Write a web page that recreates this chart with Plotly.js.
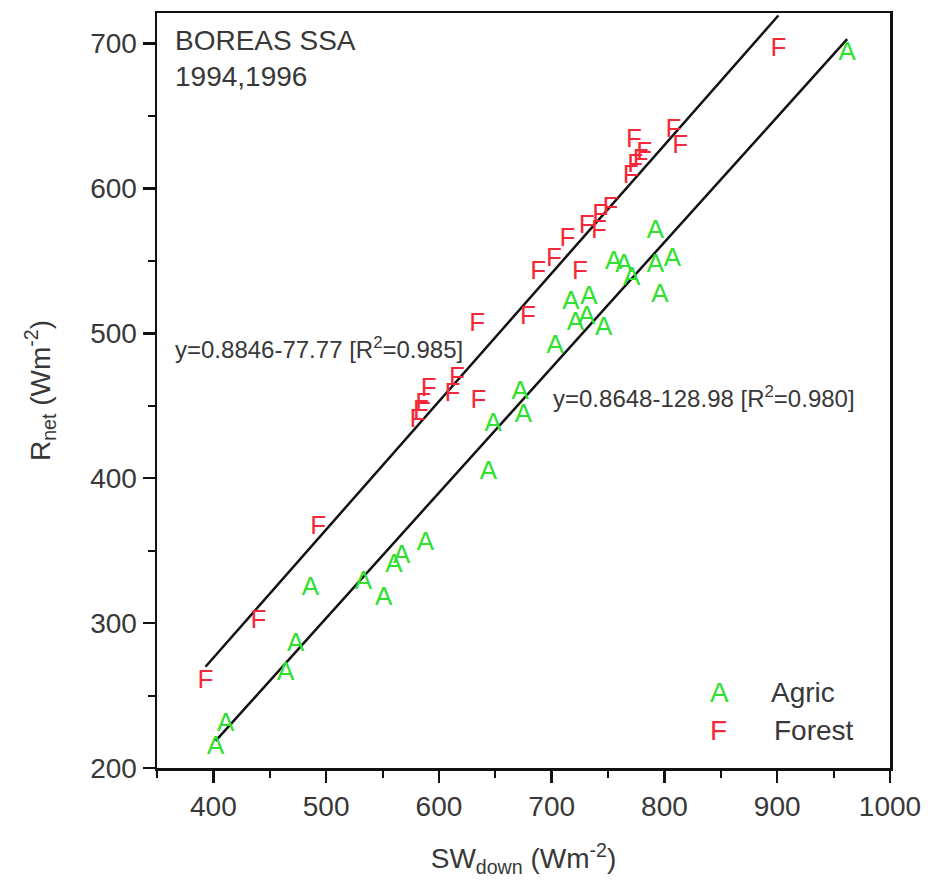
<!DOCTYPE html>
<html>
<head>
<meta charset="utf-8">
<script src="https://cdn.plot.ly/plotly-3.0.1.min.js"></script>
<style>
  html, body { margin: 0; padding: 0; background: #fff; }
  #chart { width: 933px; height: 889px; }
</style>
</head>
<body>
<div id="chart"></div>
<script>
// Incoming shortwave vs. net radiation, BOREAS southern study area
const agricSW   = [402, 411, 464, 473, 486, 533, 551, 560, 567, 588, 644, 648, 672, 675, 703,
                   717, 733, 721, 731, 746, 755, 764, 771, 792, 807, 792, 796, 962];
const agricRnet = [214, 230, 265, 285, 324, 328, 317, 340, 346, 355, 404, 437, 459, 443, 491,
                   521, 525, 507, 511, 503, 549, 547, 538, 570, 551, 547, 526, 693];

const forestSW   = [393, 440, 493, 581, 584, 586, 591, 612, 616, 635, 634, 679, 688, 702, 714,
                    725, 731, 742, 743, 752, 770, 774, 779, 782, 773, 808, 814, 901];
const forestRnet = [260, 301, 366, 440, 446, 451, 461, 458, 469, 453, 506, 511, 542, 551, 565,
                    542, 574, 570, 581, 586, 608, 616, 619, 624, 633, 640, 629, 696];

// Linear fits (slope, intercept, R²)
const forestFit = [0.8846, -77.77, 0.985];
const agricFit  = [0.8648, -128.98, 0.980];

const FONT = 'Liberation Sans, Arial, Helvetica, sans-serif';
const GREEN = '#2fe02f';
const RED = '#f5283a';
const INK = '#383838';

function fitLine(xs, fit) {
  const x0 = Math.min(...xs), x1 = Math.max(...xs);
  return { x: [x0, x1], y: [fit[0] * x0 + fit[1], fit[0] * x1 + fit[1]] };
}
const fLine = fitLine(forestSW, forestFit);
const aLine = fitLine(agricSW, agricFit);

const traces = [
  { x: fLine.x, y: fLine.y, mode: 'lines', line: { color: '#111', width: 2.5 },
    hoverinfo: 'skip', showlegend: false },
  { x: aLine.x, y: aLine.y, mode: 'lines', line: { color: '#111', width: 2.5 },
    hoverinfo: 'skip', showlegend: false },
  { x: agricSW, y: agricRnet, mode: 'text', text: agricSW.map(() => 'A'),
    textposition: 'middle center', textfont: { family: FONT, size: 26, color: GREEN },
    name: 'Agric', showlegend: false },
  { x: forestSW, y: forestRnet, mode: 'text', text: forestSW.map(() => 'F'),
    textposition: 'middle center', textfont: { family: FONT, size: 26, color: RED },
    name: 'Forest', showlegend: false }
];

function axisBase() {
  return {
    showgrid: false, zeroline: false,
    showline: true, linecolor: '#111', linewidth: 2.5, mirror: true,
    ticks: 'outside', ticklen: 12, tickwidth: 2.5, tickcolor: '#111',
    tickfont: { family: FONT, size: 28, color: INK },
    tick0: 0, dtick: 100,
    minor: { dtick: 50, tick0: 0, ticks: 'outside', ticklen: 7, tickwidth: 2, tickcolor: '#111', showgrid: false }
  };
}

const xaxis = Object.assign(axisBase(), {
  range: [350, 1000],
  title: { text: 'SW<sub>down</sub> (Wm<sup>-2</sup>)', font: { family: FONT, size: 28, color: INK }, standoff: 28 }
});
const yaxis = Object.assign(axisBase(), {
  range: [200, 721],
  title: { text: 'R<sub>net</sub> (Wm<sup>-2</sup>)', font: { family: FONT, size: 28, color: INK }, standoff: 32 }
});

function note(x, y, text, opts) {
  return Object.assign({
    x: x, y: y, xref: 'x', yref: 'y', text: text, showarrow: false,
    xanchor: 'left', yanchor: 'middle',
    font: { family: FONT, size: 28, color: INK }
  }, opts || {});
}

const annotations = [
  note(364, 702, 'BOREAS SSA'),
  note(364, 677, '1994,1996'),
  note(364, 490, 'y=0.8846-77.77 [R<sup>2</sup>=' + forestFit[2].toFixed(3) + ']', { font: { family: FONT, size: 24, color: INK } }),
  note(699, 456, 'y=0.8648-128.98 [R<sup>2</sup>=' + agricFit[2].toFixed(3) + ']', { font: { family: FONT, size: 24, color: INK } }),
  // key
  note(849, 252, 'A', { xanchor: 'center', font: { family: FONT, size: 28, color: GREEN } }),
  note(893, 252, 'Agric'),
  note(848, 226, 'F', { xanchor: 'center', font: { family: FONT, size: 28, color: RED } }),
  note(895, 226, 'Forest')
];

const layout = {
  width: 933, height: 889,
  margin: { l: 157, r: 43, t: 13, b: 121 },
  paper_bgcolor: '#fff', plot_bgcolor: '#fff',
  showlegend: false,
  xaxis: xaxis, yaxis: yaxis,
  annotations: annotations,
  font: { family: FONT, color: INK }
};

Plotly.newPlot('chart', traces, layout, { displayModeBar: false, staticPlot: true });
</script>
</body>
</html>
